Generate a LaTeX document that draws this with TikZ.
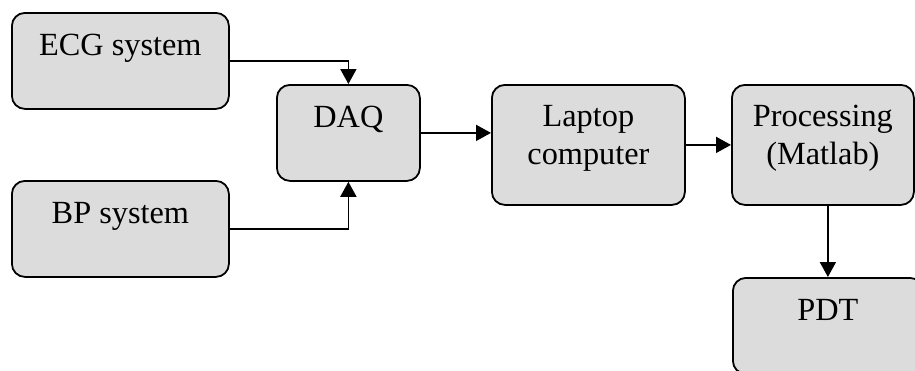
\documentclass[tikz,border=0pt]{standalone}
\usepackage{fontspec}
\setmainfont{Liberation Serif}
\usetikzlibrary{arrows.meta}
\definecolor{boxgray}{HTML}{DCDCDC}
\begin{document}
\begin{tikzpicture}[x=1pt,y=-1pt,
  blk/.style={draw=black, line width=1.8pt, fill=boxgray, rounded corners=13pt,
    inner sep=0pt, anchor=north west, align=center,
    font=\fontsize{32.3}{38}\selectfont},
  oneline/.style={text height=43pt, text depth=53pt, minimum height=96pt},
  twoline/.style={text height=80pt, text depth=40pt, minimum height=120pt},
  conn/.style={line width=1.8pt, -{Triangle[length=15pt,width=16pt]}}]
  \useasboundingbox (0,0) rectangle (915,370);
  \clip (0,0) rectangle (915,370);

  % blocks
  \node[blk, oneline, minimum width=217pt] (ecg)  at (11,12)   {ECG system};
  \node[blk, oneline, minimum width=217pt] (bp)   at (11,180)  {BP system};
  \node[blk, oneline, minimum width=143pt] (daq)  at (276,84)  {DAQ};
  \node[blk, twoline, minimum width=193pt] (lap)  at (491,84)  {Laptop\\computer};
  \node[blk, twoline, minimum width=182pt] (proc) at (731,84)  {Processing\\(Matlab)};
  \node[blk, oneline, minimum width=190pt] (pdt)  at (732,277) {PDT};

  % signal flow
  \draw[conn] (ecg.east) -| (daq.north);
  \draw[conn] (bp.east) -| (daq.south);
  \draw[conn] (daq.east) -- (daq.east -| lap.west);
  \draw[conn] (lap.east) -- (proc.west);
  \draw[conn] (pdt.north |- proc.south) -- (pdt.north);
\end{tikzpicture}
\end{document}
